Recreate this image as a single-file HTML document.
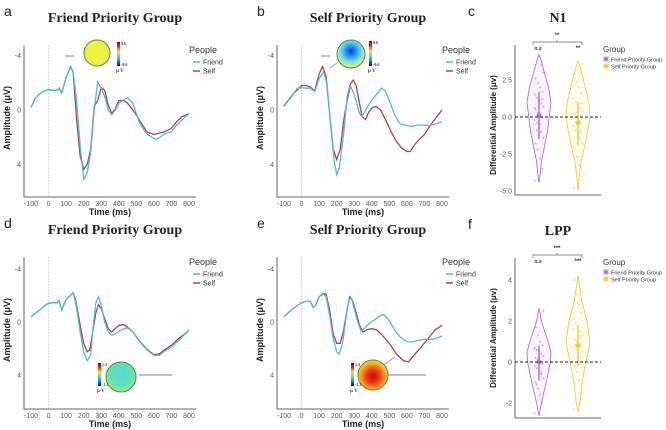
<!DOCTYPE html>
<html><head><meta charset="utf-8">
<style>
html,body{margin:0;padding:0;background:#fff;}
svg{display:block;font-family:"Liberation Sans",sans-serif;}
.title{font-family:"Liberation Serif",serif;font-weight:bold;font-size:14px;fill:#222;}
.lett{font-size:14px;fill:#222;}
.tick{font-size:7px;fill:#555;}
.axt{font-size:9px;font-weight:bold;fill:#222;}
.leg{font-size:7px;fill:#333;}
.legt{font-size:9px;fill:#333;}
</style></head><body>
<svg id="fig" width="666" height="430" viewBox="0 0 666 430">
<defs>
<radialGradient id="gA" cx="50%" cy="50%" r="55%"><stop offset="0" stop-color="#f4f03a"/><stop offset="0.8" stop-color="#eaf04a"/><stop offset="1" stop-color="#b8e07a"/></radialGradient>
<radialGradient id="gB" cx="50%" cy="40%" r="60%"><stop offset="0" stop-color="#0a3ad8"/><stop offset="0.35" stop-color="#2c9ef0"/><stop offset="0.65" stop-color="#78e0e6"/><stop offset="0.9" stop-color="#d8f070"/><stop offset="1" stop-color="#f0e040"/></radialGradient>
<radialGradient id="gD" cx="50%" cy="40%" r="60%"><stop offset="0" stop-color="#58d8d8"/><stop offset="0.6" stop-color="#60e0b8"/><stop offset="1" stop-color="#90ec80"/></radialGradient>
<radialGradient id="gE" cx="50%" cy="55%" r="55%"><stop offset="0" stop-color="#c01010"/><stop offset="0.4" stop-color="#f03818"/><stop offset="0.75" stop-color="#f8a020"/><stop offset="1" stop-color="#f0e040"/></radialGradient>
<linearGradient id="cbar" x1="0" y1="0" x2="0" y2="1"><stop offset="0" stop-color="#8b0000"/><stop offset="0.2" stop-color="#f03020"/><stop offset="0.4" stop-color="#f8e030"/><stop offset="0.6" stop-color="#50e0c0"/><stop offset="0.8" stop-color="#1080f0"/><stop offset="1" stop-color="#000090"/></linearGradient>
</defs>
<g id="root"></g>
</svg>
<script>
// ---------- ERP data (time ms, amplitude µV) ----------
const tA_f=[-100,-75,-50,-25,0,25,50,60,75,100,125,140,160,180,200,220,240,260,280,300,320,340,360,380,400,420,450,480,500,520,550,580,610,630,660,700,730,760,800];
const vA_f=[-0.2,-0.85,-1.2,-1.4,-1.5,-1.45,-1.45,-1.6,-1.25,-2.4,-3.15,-2.8,-0.7,2.65,5.1,4.6,3.15,0,-2.05,-1.6,-1.0,0,0.35,0,-0.5,-0.7,-0.9,-0.5,0.25,1.0,1.6,1.95,2.15,2.05,1.75,1.6,1.1,0.75,0.25];
const tA_s=[-100,-75,-50,-25,0,25,50,60,75,100,125,140,160,180,200,220,240,260,280,300,320,340,360,380,400,430,450,480,500,530,560,600,630,660,700,730,760,800];
const vA_s=[-0.2,-0.85,-1.2,-1.4,-1.5,-1.45,-1.45,-1.6,-1.25,-2.4,-3.2,-2.8,0.7,3.4,4.35,4.0,2.9,-0.25,-0.7,-1.65,-1.45,-0.35,0.25,-0.1,-0.7,-0.7,-0.5,0,0.35,1.0,1.6,1.8,1.7,1.6,1.35,0.85,0.5,0.25];
const tB_f=[-100,-50,-25,0,25,50,75,100,125,145,165,185,200,215,240,260,275,290,310,330,345,360,380,400,430,455,475,500,530,560,600,630,660,700,730,770,800];
const vB_f=[-0.25,-1.1,-1.6,-1.65,-1.6,-1.6,-1.35,-2.3,-2.8,-1.95,1.0,3.65,4.75,4.25,1.7,-1.0,-1.8,-1.45,-0.7,0.25,0.5,0.1,-0.35,-0.7,-1.2,-1.6,-1.45,-0.7,0.35,1.0,1.15,1.2,1.1,1.1,1.15,1.0,0.85];
const tB_s=[-100,-50,0,25,50,75,100,120,140,160,180,200,220,240,260,280,295,310,330,345,365,385,405,425,450,480,510,540,570,600,620,650,700,730,770,800];
const vB_s=[-0.3,-1.15,-1.8,-1.8,-1.7,-1.4,-2.65,-3.2,-2.45,0.25,2.9,3.65,2.9,0.75,-0.7,-1.95,-2.2,-1.8,-0.5,0.5,0.7,0.1,-0.2,-0.25,0,0.75,1.6,2.3,2.8,3.05,3.05,2.45,1.8,1.2,0.5,0];
const tD_f=[-100,-50,-25,0,25,50,60,75,100,125,140,155,180,200,220,240,255,270,285,300,320,340,360,380,400,430,450,480,520,560,600,630,660,700,740,770,800];
const vD_f=[-0.4,-0.9,-1.2,-1.4,-1.45,-1.45,-1.6,-0.9,-1.7,-2.0,-2.2,-1.4,0.75,2.25,2.9,2.5,0.25,-1.5,-1.9,-1.25,0,0.75,1.0,0.9,0.7,0.5,0.45,0.75,1.5,2.1,2.5,2.5,2.2,1.9,1.4,1.0,0.6];
const tD_s=[-100,-50,-25,0,25,50,60,75,100,125,140,155,180,200,220,235,255,270,285,300,320,340,360,380,400,430,450,480,520,560,600,630,660,700,740,770,800];
const vD_s=[-0.4,-0.9,-1.2,-1.4,-1.45,-1.45,-1.6,-0.9,-1.7,-2.0,-2.2,-1.6,0.25,1.6,2.25,2.1,0.5,-0.75,-1.3,-1.0,-0.25,0.5,0.75,0.5,0.25,0.2,0.4,0.75,1.45,2.05,2.45,2.4,2.1,1.75,1.25,0.95,0.6];
const tE_f=[-100,-50,0,25,50,65,80,100,125,140,160,180,200,215,235,255,270,285,300,320,340,360,390,420,450,470,500,530,560,600,630,660,700,740,770,800];
const vE_f=[-0.4,-1.0,-1.45,-1.55,-1.55,-1.1,-1.25,-1.9,-2.1,-1.9,-0.5,1.25,2.25,2.4,1.5,-0.5,-1.75,-1.75,-1.0,0,0.7,0.45,0.05,-0.2,-0.5,-0.55,-0.1,0.6,1.1,1.5,1.5,1.4,1.3,1.3,1.2,1.05];
const tE_s=[-100,-50,0,25,50,65,80,100,125,140,160,180,200,220,240,260,275,290,310,330,350,370,400,430,460,500,540,580,610,640,680,720,760,800];
const vE_s=[-0.4,-1.0,-1.45,-1.55,-1.55,-1.1,-1.25,-1.9,-2.15,-2.1,-0.9,0.9,1.6,1.6,0.6,-1.0,-1.9,-1.6,-0.75,0.25,0.75,0.6,0.5,0.6,1.0,1.6,2.4,2.9,3.0,2.5,1.9,1.25,0.6,0.25];
const xTicks=[-100,0,100,200,300,400,500,600,700,800];
const yTicks=[-4,0,4];

// ---------- violin data ----------
const densLevelsC=[-5,-4,-3,-2,-1,0,1,2,3,4,4.5];
const densC_f=[0,0.08,0.2,0.45,0.7,0.85,1.0,0.8,0.45,0.12,0];
const densC_s=[0.02,0.1,0.25,0.55,0.8,1.0,0.9,0.6,0.3,0.08,0];
const rangeC_f=[-4.4,4.2], rangeC_s=[-4.9,3.8];
const ptsC_f=[-4.3,-3.5,-2.8,-2.2,-1.8,-1.4,-1.0,-0.7,-0.4,-0.2,0,0.1,0.3,0.5,0.7,0.9,1.1,1.3,1.5,1.7,2.0,2.3,2.6,3.0,3.5,4.1,-0.9,0.6,1.2,-0.5];
const ptsC_s=[-4.8,-4.0,-3.3,-2.7,-2.2,-1.8,-1.5,-1.2,-0.9,-0.6,-0.4,-0.2,0,0.2,0.4,0.6,0.8,1.0,1.3,1.6,2.0,2.4,2.9,3.6,-1.0,-0.3,0.3,-2.0,0.9,-1.4];
const statC=[{m:0.1,lo:-1.5,hi:1.7},{m:-0.4,lo:-1.9,hi:1.0}];
const densLevelsF=[-2.7,-2,-1,0,0.5,1,2,3,4,4.3];
const densF_f=[0.05,0.2,0.6,0.95,1.0,0.75,0.2,0,0,0];
const densF_s=[0,0.15,0.35,0.65,0.85,1.0,0.75,0.3,0.06,0];
const rangeF_f=[-2.6,2.6], rangeF_s=[-2.4,4.2];
const ptsF_f=[-2.5,-2.0,-1.6,-1.3,-1.0,-0.8,-0.6,-0.4,-0.3,-0.2,-0.1,0,0.1,0.2,0.3,0.4,0.5,0.6,0.7,0.8,1.0,1.3,1.7,2.5,-0.5,0.2,-1.1,0.65];
const ptsF_s=[-2.3,-1.5,-0.9,-0.5,-0.2,0,0.2,0.4,0.6,0.7,0.8,0.9,1.0,1.1,1.3,1.5,1.7,1.9,2.1,2.4,2.8,3.3,4.0,0.5,1.2,-0.1,0.85,1.6];
const statF=[{m:0,lo:-0.9,hi:0.8},{m:0.8,lo:-0.2,hi:1.8}];

const NS="http://www.w3.org/2000/svg";
const root=document.getElementById('root');
function el(tag,attrs,parent,text){const e=document.createElementNS(NS,tag);for(const k in attrs)e.setAttribute(k,attrs[k]);if(text!==undefined)e.textContent=text;(parent||root).appendChild(e);return e;}

const CF="#4dbcd8", CS="#b0424c";
function erpPanel(id,dx,dy,title,letter,tf,vf,ts,vs,yk,topo){
  const g=el('g',{});
  
  
  const X=t=>dx+31+(t+100)*158/900;
  const Y=v=>dy+110+v*yk;
  const lt=el('text',{x:dx+4,y:dy+16,class:'lett'},g,letter);
  
  const tt=el('text',{x:dx+115,y:dy+22,class:'title','text-anchor':'middle'},g,title);
  
  // zero line
  const z=el('line',{x1:X(0),x2:X(0),y1:dy+45,y2:dy+197,stroke:'#bbb','stroke-dasharray':'1.5,1.5','stroke-width':0.7},g);
  
  const ax=el('path',{d:`M${dx+24},${dy+45}V${dy+197}H${dx+196}`,fill:'none',stroke:'#666','stroke-width':1},g);
  
  xTicks.forEach(t=>{const e=el('text',{x:X(t),y:dy+206,class:'tick','text-anchor':'middle'},g,String(t));
    });
  yTicks.forEach(v=>{const e=el('text',{x:dx+21,y:Y(v)+2.5,class:'tick','text-anchor':'end'},g,String(v));
    });
  const xt=el('text',{x:dx+110,y:dy+215,class:'axt','text-anchor':'middle'},g,'Time (ms)');
  
  const yt=el('text',{x:0,y:0,class:'axt','text-anchor':'middle',transform:`translate(${dx+10},${dy+118}) rotate(-90)`},g,'Amplitude (\u03bcV)');
  
  const pth=(ts_,vs_)=>ts_.map((t,i)=>(i?'L':'M')+X(t).toFixed(1)+','+Y(vs_[i]).toFixed(1)).join('');
  const ls=el('path',{d:pth(ts,vs),fill:'none',stroke:CS,'stroke-width':1.3},g);
  
  const lf=el('path',{d:pth(tf,vf),fill:'none',stroke:CF,'stroke-width':1.3},g);
  
  // legend
  const lg=el('g',{},g);
  
  el('text',{x:dx+189,y:dy+53,class:'legt'},lg,'People');
  el('line',{x1:dx+193,x2:dx+200,y1:dy+62,y2:dy+62,stroke:CF,'stroke-width':1.5},lg);
  el('text',{x:dx+203,y:dy+64.5,class:'leg'},lg,'Friend');
  el('line',{x1:dx+193,x2:dx+200,y1:dy+71,y2:dy+71,stroke:CS,'stroke-width':1.5},lg);
  el('text',{x:dx+203,y:dy+73.5,class:'leg'},lg,'Self');
  // topomap
  const tg=el('g',{},g);
  
  el('line',{x1:topo.l1[0],y1:topo.l1[1],x2:topo.l1[2],y2:topo.l1[3],stroke:'#999','stroke-width':1.2},tg);
  if(topo.l2)el('line',{x1:topo.l2[0],y1:topo.l2[1],x2:topo.l2[2],y2:topo.l2[3],stroke:'#999','stroke-width':0.8},tg);
  el('circle',{cx:topo.cx,cy:topo.cy,r:topo.r,fill:'url(#'+topo.grad+')',stroke:'#5a8a3a','stroke-width':1},tg);
  el('rect',{x:topo.bx,y:topo.by,width:3,height:topo.bh,fill:'url(#cbar)'},tg);
  el('text',{x:topo.bx+4,y:topo.by+3,style:'font-size:4px;font-family:Liberation Serif;font-weight:bold',fill:'#333'},tg,topo.max);
  el('text',{x:topo.bx+4,y:topo.by+topo.bh,style:'font-size:4px;font-family:Liberation Serif;font-weight:bold',fill:'#333'},tg,'-'+topo.max);
  el('text',{x:topo.bx-1,y:topo.by+topo.bh+6,style:'font-size:5px;font-family:Liberation Serif;font-weight:bold',fill:'#333'},tg,'\u03bc V');
}
erpPanel('a',0,0,'Friend Priority Group','a',tA_f,vA_f,tA_s,vA_s,13.6,
  {cx:97,cy:53,r:13,grad:'gA',bx:117,by:42,bh:24,max:'0.6',l1:[65,56,74,56]});
erpPanel('b',253,0,'Self Priority Group','b',tB_f,vB_f,tB_s,vB_s,13.6,
  {cx:351,cy:54,r:14,grad:'gB',bx:369,by:41,bh:25,max:'0.6',l1:[321,56,330,56],l2:[338,62,330,68]});
erpPanel('d',0,212,'Friend Priority Group','d',tD_f,vD_f,tD_s,vD_s,13.3,
  {cx:121,cy:377,r:15,grad:'gD',bx:98,by:363,bh:23,max:'1.3',l1:[139,375,172,375]});
erpPanel('e',253,212,'Self Priority Group','e',tE_f,vE_f,tE_s,vE_s,13.3,
  {cx:373,cy:375,r:15,grad:'gE',bx:351,by:363,bh:23,max:'1.3',l1:[388,375,426,375],l2:[382,366,395,357]});

const VP="#b46ee0", VY="#ecd040";
function violinPanel(id,dy,title,letter,Y,ticks,fmt,lev,dF,dS,rF,rS,pF,pS,st,sig){
  const g=el('g',{});
  
  
  const lt=el('text',{x:468,y:dy+16,class:'lett'},g,letter);
  
  const tt=el('text',{x:558,y:dy+22,class:'title','text-anchor':'middle'},g,title);
  
  const ax=el('path',{d:`M515,${dy+45}V${st.axisY}H601`,fill:'none',stroke:'#666','stroke-width':1},g);
  
  ticks.forEach(v=>{const e=el('text',{x:512,y:Y(v)+2.5,class:'tick','text-anchor':'end'},g,fmt(v));
    });
  const yt=el('text',{x:0,y:0,class:'axt','text-anchor':'middle',style:'font-size:8px',transform:`translate(496,${dy+125}) rotate(-90)`},g,'Differential Amplitude (\u03bcv)');
  
  const W=12;
  function violin(cx,dens,rng,col,pts,s,name){
    const vg=el('g',{},g);
    
    const prof=[];
    lev.forEach((v,i)=>{if(v>rng[0]&&v<rng[1])prof.push([v,dens[i]]);});
    prof.unshift([rng[0],0.02]);prof.push([rng[1],0.02]);
    let d='M'+prof.map(p=>(cx+p[1]*W).toFixed(1)+','+Y(p[0]).toFixed(1)).join('L');
    d+='L'+prof.slice().reverse().map(p=>(cx-p[1]*W).toFixed(1)+','+Y(p[0]).toFixed(1)).join('L')+'Z';
    el('path',{d:d,fill:col,'fill-opacity':0.08,stroke:col,'stroke-width':0.9},vg);
    pts.forEach((v,i)=>{const c=el('circle',{cx:cx+((i*7)%9-4)*1.1,cy:Y(v),r:1,fill:col,'fill-opacity':0.6},vg);
      });
    el('line',{x1:cx,x2:cx,y1:Y(s.lo),y2:Y(s.hi),stroke:col,'stroke-width':1.5},vg);
    el('circle',{cx:cx,cy:Y(s.m),r:2.5,fill:col},vg);
  }
  violin(539,dF,rF,VP,pF,st.s[0],'friend-priority-violin');
  violin(578,dS,rS,VY,pS,st.s[1],'self-priority-violin');
  const zl=el('line',{x1:515,x2:601,y1:Y(0),y2:Y(0),stroke:'#222','stroke-dasharray':'3,2','stroke-width':1},g);
  
  const sg=el('g',{},g);
  
  el('path',{d:`M533,${dy+45}V${dy+42}H582V${dy+45}M557,${dy+42}V${dy+40}`,fill:'none',stroke:'#666','stroke-width':0.7},sg);
  el('text',{x:557,y:dy+37,style:'font-size:6px;font-weight:bold','text-anchor':'middle',fill:'#333'},sg,sig[0]);
  el('text',{x:538,y:dy+50,style:'font-size:5px;font-weight:bold','text-anchor':'middle',fill:'#333'},sg,sig[1]);
  el('text',{x:578,y:dy+50,style:'font-size:6px;font-weight:bold','text-anchor':'middle',fill:'#333'},sg,sig[2]);
  const lg=el('g',{},g);
  
  el('text',{x:603,y:dy+52,class:'legt',style:'font-size:8px'},lg,'Group');
  el('rect',{x:603,y:dy+56,width:6,height:6,fill:'#e8d0f4'},lg);
  el('circle',{cx:606,cy:dy+59,r:2,fill:VP},lg);
  el('text',{x:611,y:dy+61.5,class:'leg',style:'font-size:5.5px'},lg,'Friend Priority Group');
  el('rect',{x:603,y:dy+63,width:6,height:6,fill:'#f8eeb0'},lg);
  el('circle',{cx:606,cy:dy+66,r:2,fill:VY},lg);
  el('text',{x:611,y:dy+68.5,class:'leg',style:'font-size:5.5px'},lg,'Self Priority Group');
}
violinPanel('c',0,'N1','c',v=>117-v*14.8,[2.5,0,-2.5,-5],v=>v.toFixed(1),densLevelsC,densC_f,densC_s,rangeC_f,rangeC_s,ptsC_f,ptsC_s,{axisY:195,s:statC},['**','n.s','**']);
violinPanel('f',213,'LPP','f',v=>362-v*20.5,[4,2,0,-2],v=>String(v),densLevelsF,densF_f,densF_s,rangeF_f,rangeF_s,ptsF_f,ptsF_s,{axisY:418,s:statF},['***','n.s','***']);
</script>
</body></html>
